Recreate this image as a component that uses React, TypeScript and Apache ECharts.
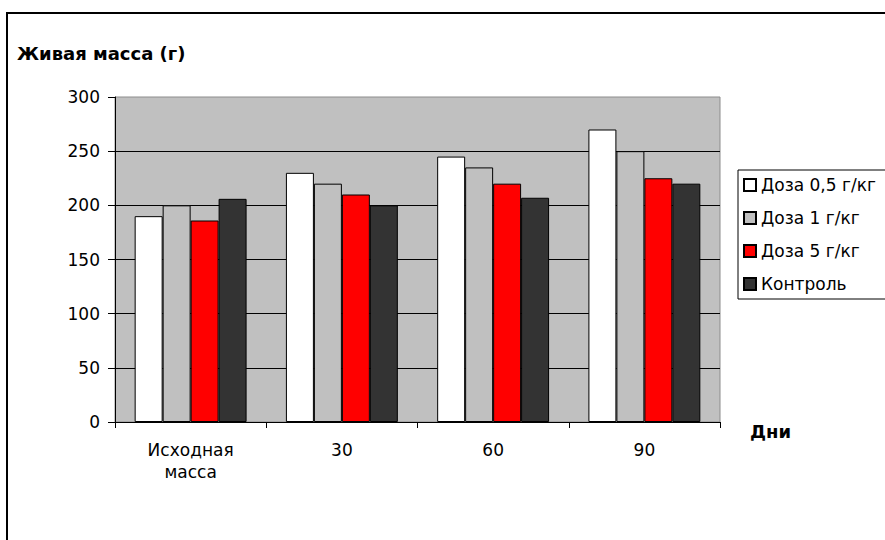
import React, { useEffect, useRef } from "react";
import * as echarts from "echarts";

const categories = ["Исходная\nмасса", "30", "60", "90"];
const seriesNames = ["Доза 0,5 г/кг", "Доза 1 г/кг", "Доза 5 г/кг", "Контроль"];
const dose05 = [190, 230, 245, 270];
const dose1 = [200, 220, 235, 250];
const dose5 = [186, 210, 220, 225];
const control = [206, 200, 207, 220];
const seriesColors = ["#FFFFFF", "#C0C0C0", "#FF0000", "#333333"];
const yMin = 0;
const yMax = 300;
const yStep = 50;

const FONT = "DejaVu Sans";

export default function App() {
  const ref = useRef<HTMLDivElement>(null);
  useEffect(() => {
    if (!ref.current) return;
    const chart = echarts.init(ref.current, null, { renderer: "svg" });
    const values = [dose05, dose1, dose5, control];
    chart.setOption({
      animation: false,
      backgroundColor: "#FFFFFF",
      title: {
        text: "Живая масса (г)",
        left: 17,
        top: 44,
        padding: 0,
        textStyle: { fontFamily: FONT, fontSize: 18, fontWeight: "bold", color: "#000" },
      },
      grid: {
        left: 115,
        top: 97,
        width: 605,
        height: 325,
        show: true,
        backgroundColor: "#C0C0C0",
        borderColor: "#8C8C8C",
        borderWidth: 1,
      },
      legend: {
        orient: "vertical",
        left: 738,
        top: 170,
        padding: [6, 30, 6, 5],
        itemGap: 15,
        itemWidth: 12,
        itemHeight: 12,
        icon: "rect",
        borderColor: "#000",
        borderWidth: 1,
        backgroundColor: "#FFFFFF",
        data: seriesNames,
        textStyle: { fontFamily: FONT, fontSize: 17, color: "#000", lineHeight: 18 },
      },
      xAxis: {
        type: "category",
        data: categories,
        boundaryGap: true,
        axisLine: { lineStyle: { color: "#000", width: 1 } },
        axisTick: { show: true, length: 6, lineStyle: { color: "#000" } },
        axisLabel: {
          margin: 17,
          fontFamily: FONT,
          fontSize: 17,
          lineHeight: 22,
          color: "#000",
        },
        splitLine: { show: false },
      },
      yAxis: {
        type: "value",
        min: yMin,
        max: yMax,
        interval: yStep,
        axisLine: { show: true, lineStyle: { color: "#000", width: 1 } },
        axisTick: { show: true, length: 7, lineStyle: { color: "#000" } },
        axisLabel: {
          margin: 15,
          fontFamily: FONT,
          fontSize: 17,
          color: "#000",
        },
        splitLine: { show: true, showMaxLine: false, lineStyle: { color: "#000", width: 1 } },
      },
      graphic: [
        {
          type: "rect",
          shape: { x: 7, y: 13, width: 1000, height: 1000 },
          style: { fill: "none", stroke: "#000", lineWidth: 2 },
          silent: true,
          z: 100,
        },
        {
          type: "text",
          left: 750,
          top: 422,
          style: { text: "Дни", fontFamily: FONT, fontSize: 18, fontWeight: "bold", fill: "#000" },
        },
      ],
      series: seriesNames.map((name, i) => ({
        name,
        type: "bar",
        data: values[i],
        barGap: "0%",
        barCategoryGap: "26%",
        itemStyle: { color: seriesColors[i], borderColor: "#000", borderWidth: 1 },
      })),
    });
    return () => chart.dispose();
  }, []);
  return (
    <div
      ref={ref}
      style={{ position: "absolute", left: 0, top: 0, width: 885, height: 540 }}
    />
  );
}
